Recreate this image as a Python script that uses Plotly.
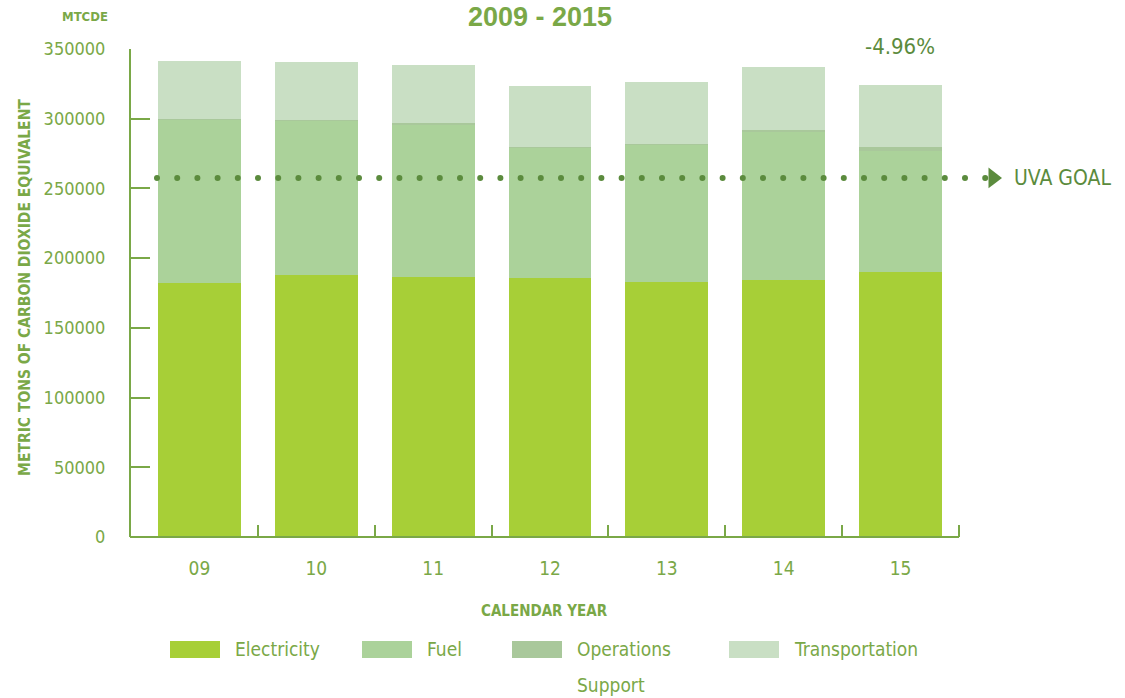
import numpy as np
import plotly.graph_objects as go

# ---------------- data ----------------
years = ["09", "10", "11", "12", "13", "14", "15"]
electricity = [182200, 187900, 186500, 185800, 182900, 184300, 190100]
fuel = [117400, 111000, 109400, 93700, 98700, 106100, 86700]
operations = [400, 400, 900, 300, 400, 1500, 2900]
transportation = [41400, 41400, 41700, 43700, 44300, 45200, 44500]
series_names = ["Electricity", "Fuel", "Operations Support", "Transportation"]
uva_goal = 257500
y_ticks = [0, 50000, 100000, 150000, 200000, 250000, 300000, 350000]
change_label = "-4.96%"

# ---------------- style ----------------
W, H = 1125, 698
L, R, T, B = 130, 10, 49, 161
PW, PH = W - L - R, H - T - B
X0, X1 = 141, 959          # category axis pixel extent
colors = ["#a7cf37", "#abd29a", "#a9c89b", "#c9dfc4"]
txt = "#7aa847"
dark = "#5b8b3d"
narrow = "DejaVu Sans Condensed, Liberation Sans Narrow, sans-serif"
wide = "Liberation Sans, Arial, sans-serif"


def px(x):
    return (x - L) / PW


def py(y):
    return (H - B - y) / PH


fig = go.Figure()
for name, vals, col in zip(series_names, [electricity, fuel, operations, transportation], colors):
    fig.add_trace(go.Bar(x=years, y=vals, name=name, marker=dict(color=col, line=dict(width=0)),
                         showlegend=False))

# UVA goal dotted line with arrow
dot_x = np.arange(157, 986, 20.2)
fig.add_trace(go.Scatter(x=dot_x, y=[uva_goal] * len(dot_x), xaxis="x2", yaxis="y", mode="markers",
                         marker=dict(color=dark, size=6), showlegend=False, cliponaxis=False,
                         hoverinfo="skip"))
fig.add_trace(go.Scatter(x=[993], y=[uva_goal], xaxis="x2", yaxis="y", mode="markers",
                         marker=dict(color=dark, size=18, symbol="triangle-right"),
                         showlegend=False, cliponaxis=False, hoverinfo="skip"))

fig.update_layout(
    width=W, height=H, margin=dict(l=L, r=R, t=T, b=B),
    paper_bgcolor="white", plot_bgcolor="rgba(0,0,0,0)",
    barmode="stack", bargap=0.29, showlegend=False,
    font=dict(family=narrow, color=txt),
    xaxis=dict(type="category", range=[-0.5, 6.5], domain=[px(X0), px(X1)],
               ticks="inside", tickson="boundaries", ticklen=12, tickwidth=2, tickcolor=txt,
               showline=False, showgrid=False, zeroline=False,
               tickfont=dict(family=narrow, size=19, color=txt), ticklabelstandoff=18),
    xaxis2=dict(anchor="y", range=[L, W - R], domain=[0, 1], visible=False,
                showgrid=False, zeroline=False),
    yaxis=dict(range=[0, 350000], anchor="free", position=0, tickvals=y_ticks,
               ticktext=[str(v) for v in y_ticks],
               ticks="inside", ticklen=19, tickwidth=2, tickcolor=txt,
               showline=True, linecolor=txt, linewidth=2, showgrid=False, zeroline=False,
               tickfont=dict(family=narrow, size=18, color=txt), ticklabelstandoff=20),
)

# x-axis base line and closing tick at right end
fig.add_shape(type="line", xref="paper", yref="paper", x0=0, x1=px(X1), y0=0, y1=0,
              line=dict(color=txt, width=2), layer="above")
fig.add_shape(type="line", xref="paper", yref="paper", x0=px(X1), x1=px(X1), y0=0, y1=12 / PH,
              line=dict(color=txt, width=2), layer="above")

ann = []
ann.append(dict(text="<b>2009 - 2015</b>", x=px(540), y=py(17), font=dict(family=wide, size=27, color=txt)))
ann.append(dict(text="<b>MTCDE</b>", x=px(85), y=py(17), font=dict(family=narrow, size=13, color=txt)))
ann.append(dict(text="<b>METRIC TONS OF CARBON DIOXIDE EQUIVALENT</b>", x=px(25), y=py(288),
                textangle=-90, font=dict(family=narrow, size=15.5, color=txt)))
ann.append(dict(text="<b>CALENDAR YEAR</b>", x=px(544), y=py(611), font=dict(family=narrow, size=15, color=txt)))
ann.append(dict(text=change_label, x=px(900), y=py(46), font=dict(family=narrow, size=22, color=dark)))
ann.append(dict(text="UVA GOAL", x=px(1012), y=uva_goal, yref="y", xanchor="left",
                font=dict(family=narrow, size=21, color=dark)))

# legend (manual)
sw_x = [170, 362, 512, 729]
for name, col, sx in zip(series_names, colors, sw_x):
    fig.add_shape(type="rect", xref="paper", yref="paper", x0=px(sx), x1=px(sx + 50),
                  y0=py(641), y1=py(658), fillcolor=col, line=dict(width=0))
    for i, part in enumerate(name.split(" ")):
        ann.append(dict(text=part, x=px(sx + 63), y=py(649 + 36 * i), xanchor="left",
                        font=dict(family=narrow, size=19, color=txt)))

for a in ann:
    a.setdefault("xref", "paper")
    a.setdefault("yref", "paper")
    a.setdefault("showarrow", False)
    a.setdefault("xanchor", "center")
    a.setdefault("yanchor", "middle")
    fig.add_annotation(**a)

fig.write_html("out.html", config={"displayModeBar": False},
               post_script="document.body.style.margin='0';")
